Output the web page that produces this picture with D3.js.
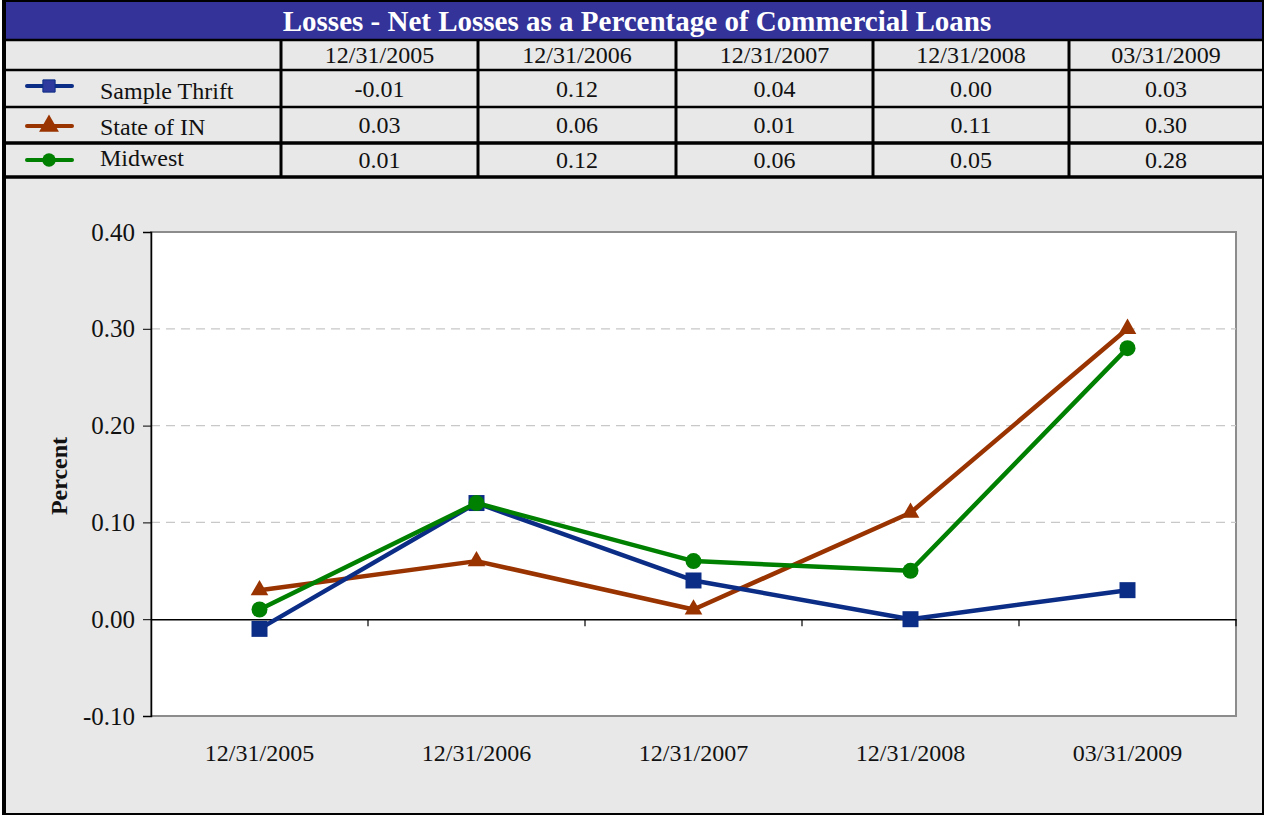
<!DOCTYPE html>
<html>
<head>
<meta charset="utf-8">
<script src="https://cdn.jsdelivr.net/npm/d3@7"></script>
<style>
  body { margin: 0; background: #fff; }
  svg text { font-family: "Liberation Serif", "Times New Roman", serif; }
</style>
</head>
<body>
<svg width="1265" height="815"></svg>
<script>
const title = "Losses - Net Losses as a Percentage of Commercial Loans";
const periods = ["12/31/2005", "12/31/2006", "12/31/2007", "12/31/2008", "03/31/2009"];
const seriesNames = ["Sample Thrift", "State of IN", "Midwest"];
const sampleThrift = [-0.01, 0.12, 0.04, 0.00, 0.03];
const stateOfIN = [0.03, 0.06, 0.01, 0.11, 0.30];
const midwest = [0.01, 0.12, 0.06, 0.05, 0.28];
const yTicks = [-0.10, 0.00, 0.10, 0.20, 0.30, 0.40];

const colors = ["#0c2d86", "#993300", "#008000"];
const shapes = [d3.symbolSquare, d3.symbolTriangle, d3.symbolCircle];
const series = seriesNames.map((name, i) => ({
  name: name,
  values: [sampleThrift, stateOfIN, midwest][i],
  color: colors[i],
  shape: shapes[i]
}));

const fmt = d => d3.format(".2f")(d).replace("\u2212", "-");
const FONT = "Liberation Serif, Times New Roman, serif";

const svg = d3.select("svg");

// outer frame background
svg.append("rect").attr("x", 4).attr("y", 1).attr("width", 1258).attr("height", 812)
  .attr("fill", "#e8e8e8");

// title band
svg.append("rect").attr("x", 4).attr("y", 1).attr("width", 1258).attr("height", 39)
  .attr("fill", "#333399");
svg.append("text").attr("x", 637).attr("y", 31).attr("text-anchor", "middle")
  .attr("font-family", FONT)
  .attr("fill", "#fff").attr("font-size", 29).attr("font-weight", "bold").text(title);

// data table
const colEdges = [4, 281, 478, 676, 873, 1069, 1263];
const rowEdges = [40, 70, 107, 143, 177];
const nameBase = [99, 135, 166];
const valBase = [97, 133, 168];
const legendY = [86, 126, 160];
const table = svg.append("g").attr("font-family", FONT);

table.selectAll("text.head").data(periods).enter().append("text")
  .attr("x", (d, i) => (colEdges[i + 1] + colEdges[i + 2]) / 2)
  .attr("y", 63).attr("text-anchor", "middle").attr("font-size", 24).attr("fill", "#111")
  .text(d => d);

series.forEach((s, r) => {
  const ly = legendY[r];
  table.append("line").attr("x1", 27).attr("x2", 72).attr("y1", ly).attr("y2", ly)
    .attr("stroke", s.color).attr("stroke-width", 4).attr("stroke-linecap", "round");
  table.append("path").attr("transform", `translate(49,${ly + (r === 1 ? 0 : 0)})`)
    .attr("d", d3.symbol().type(s.shape).size(r === 0 ? 150 : r === 1 ? 170 : 140)())
    .attr("fill", r === 0 ? "#2e3a9e" : s.color).attr("stroke", r === 0 ? s.color : "none");
  table.append("text").attr("x", 100).attr("y", nameBase[r]).attr("font-size", 24).attr("fill", "#111")
    .text(s.name);
  table.selectAll(null).data(s.values).enter().append("text")
    .attr("x", (d, i) => (colEdges[i + 1] + colEdges[i + 2]) / 2)
    .attr("y", valBase[r]).attr("text-anchor", "middle").attr("font-size", 24).attr("fill", "#111")
    .text(d => fmt(d));
});

rowEdges.forEach((y, i) => {
  table.append("line").attr("x1", 4).attr("x2", 1263).attr("y1", y).attr("y2", y)
    .attr("stroke", "#000").attr("stroke-width", i === 3 || i === 4 ? 3.5 : 2.5);
});
colEdges.slice(1, -1).forEach(x => {
  table.append("line").attr("x1", x).attr("x2", x).attr("y1", rowEdges[0]).attr("y2", rowEdges[4])
    .attr("stroke", "#000").attr("stroke-width", 3);
});

// frame borders
svg.append("line").attr("x1", 4).attr("x2", 4).attr("y1", 0).attr("y2", 815)
  .attr("stroke", "#000").attr("stroke-width", 4);
svg.append("line").attr("x1", 1263).attr("x2", 1263).attr("y1", 0).attr("y2", 815)
  .attr("stroke", "#000").attr("stroke-width", 2);
svg.append("line").attr("x1", 4).attr("x2", 1263).attr("y1", 814).attr("y2", 814)
  .attr("stroke", "#000").attr("stroke-width", 2);
svg.append("line").attr("x1", 4).attr("x2", 1263).attr("y1", 1).attr("y2", 1)
  .attr("stroke", "#000").attr("stroke-width", 2);

// chart
const plot = { left: 151, right: 1236, top: 232, bottom: 716 };
const x = d3.scaleBand().domain(periods).range([plot.left, plot.right]);
const y = d3.scaleLinear().domain([-0.10, 0.40]).range([plot.bottom, plot.top]);
const xc = d => x(d) + x.bandwidth() / 2;

svg.append("rect").attr("x", plot.left).attr("y", plot.top)
  .attr("width", plot.right - plot.left).attr("height", plot.bottom - plot.top)
  .attr("fill", "#fff").attr("stroke", "#8c8c8c").attr("stroke-width", 2);

// gridlines
svg.append("g").selectAll("line").data(yTicks.filter(t => t > 0 && t < 0.4)).enter().append("line")
  .attr("x1", plot.left).attr("x2", plot.right)
  .attr("y1", d => y(d)).attr("y2", d => y(d))
  .attr("stroke", "#c8c8c8").attr("stroke-width", 1.2).attr("stroke-dasharray", "9,6");

// y axis
const yAxis = svg.append("g").attr("transform", `translate(${plot.left},0)`)
  .call(d3.axisLeft(y).tickValues(yTicks).tickFormat(fmt).tickSize(8).tickPadding(8))
  .attr("font-family", FONT);
yAxis.select(".domain").attr("stroke", "#000").attr("stroke-width", 1.5);
yAxis.selectAll(".tick line").attr("stroke", "#000");
yAxis.selectAll(".tick text").attr("font-size", 25).attr("fill", "#111");

// zero line with category ticks
const xAxis = svg.append("g").attr("transform", `translate(0,${y(0)})`)
  .call(d3.axisBottom(x).tickSize(0).tickFormat(""));
xAxis.select(".domain").attr("stroke", "#000").attr("stroke-width", 1.5);
xAxis.selectAll(".tick").remove();
xAxis.selectAll("line.sep").data(periods).enter().append("line")
  .attr("x1", d => x(d) + x.bandwidth()).attr("x2", d => x(d) + x.bandwidth())
  .attr("y1", 0).attr("y2", 7).attr("stroke", "#000").attr("stroke-width", 1.2);

// category labels
svg.append("g").attr("font-family", FONT).selectAll("text").data(periods).enter().append("text")
  .attr("x", d => xc(d)).attr("y", plot.bottom + 45).attr("text-anchor", "middle")
  .attr("font-size", 24).attr("fill", "#111").text(d => d);

// y title
svg.append("text").attr("transform", `translate(67,${(plot.top + plot.bottom) / 2 + 2}) rotate(-90)`)
  .attr("font-family", FONT)
  .attr("text-anchor", "middle").attr("font-size", 24).attr("font-weight", "bold").attr("fill", "#111")
  .text("Percent");

// lines and markers
const line = d3.line().x((d, i) => xc(periods[i])).y(d => y(d));
const markerSize = [256, 135, 201];
const drawOrder = [1, 0, 2];
drawOrder.forEach(k => {
  const s = series[k];
  svg.append("path").datum(s.values).attr("d", line)
    .attr("fill", "none").attr("stroke", s.color).attr("stroke-width", 4.5)
    .attr("stroke-linejoin", "round");
  svg.append("g").selectAll("path").data(s.values).enter().append("path")
    .attr("transform", (d, i) => `translate(${xc(periods[i])},${y(d)})`)
    .attr("d", d3.symbol().type(s.shape).size(markerSize[k])())
    .attr("fill", s.color);
});
</script>
</body>
</html>
